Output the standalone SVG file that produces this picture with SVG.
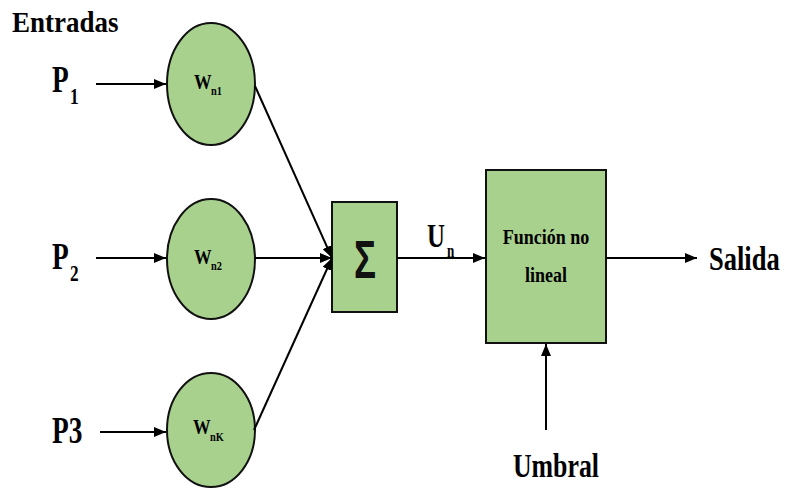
<svg xmlns="http://www.w3.org/2000/svg" width="786" height="488" viewBox="0 0 786 488">
  <style>
    .node { fill: #a9d18e; stroke: #111; stroke-width: 2; }
    .wire { stroke: #000; stroke-width: 2; fill: none; }
    .lbl { font-family: "Liberation Serif", "Times New Roman", serif; font-weight: bold; fill: #000; }
  </style>
  <defs>
    <marker id="arrow" viewBox="0 0 12 10" refX="12" refY="5" markerWidth="12" markerHeight="10" markerUnits="userSpaceOnUse" orient="auto">
      <path d="M0,0 L12,5 L0,10 Z" fill="#000"/>
    </marker>
  </defs>
  <rect width="786" height="488" fill="#fff"/>

  <!-- title and input labels -->
  <g id="labels">
    <text class="lbl" font-size="30" transform="translate(12,32) scale(0.9,1)">Entradas</text>
    <text class="lbl" font-size="38" transform="translate(52,92) scale(0.72,1)">P</text>
    <text class="lbl" font-size="24" transform="translate(70,104) scale(0.72,1)">1</text>
    <text class="lbl" font-size="38" transform="translate(52,269) scale(0.72,1)">P</text>
    <text class="lbl" font-size="24" transform="translate(70,281) scale(0.72,1)">2</text>
    <text class="lbl" font-size="38" transform="translate(52,443) scale(0.72,1)">P3</text>
    <text class="lbl" font-size="34" transform="translate(427,247) scale(0.73,1)">U</text>
    <text class="lbl" font-size="18" transform="translate(447,257) scale(0.73,1)">n</text>
    <text class="lbl" font-size="34" transform="translate(709,270) scale(0.78,1)">Salida</text>
    <text class="lbl" font-size="34" text-anchor="middle" transform="translate(556,477) scale(0.76,1)">Umbral</text>
  </g>

  <!-- weight nodes -->
  <g id="w1">
    <ellipse class="node" cx="211" cy="84" rx="44" ry="61"/>
    <text class="lbl" font-size="22" transform="translate(194,89) scale(0.8,1)">W</text>
    <text class="lbl" font-size="13" transform="translate(211,95) scale(0.8,1)">n1</text>
  </g>
  <g id="w2">
    <ellipse class="node" cx="211" cy="259" rx="44" ry="60"/>
    <text class="lbl" font-size="22" transform="translate(194,264) scale(0.8,1)">W</text>
    <text class="lbl" font-size="13" transform="translate(211,270) scale(0.8,1)">n2</text>
  </g>
  <g id="w3">
    <ellipse class="node" cx="211" cy="430" rx="44" ry="57"/>
    <text class="lbl" font-size="22" transform="translate(193,434) scale(0.8,1)">W</text>
    <text class="lbl" font-size="13" transform="translate(210,441) scale(0.8,1)">nK</text>
  </g>

  <!-- summation -->
  <g id="sum">
    <rect class="node" x="332" y="202" width="65" height="110"/>
    <text font-family="'Liberation Sans', Arial, sans-serif" font-weight="bold" font-size="54" fill="#111" text-anchor="middle" transform="translate(365,278) scale(0.68,1)">Σ</text>
  </g>

  <!-- activation -->
  <g id="activation">
    <rect class="node" x="486" y="170" width="120" height="173"/>
    <text class="lbl" font-size="20" text-anchor="middle" transform="translate(546,244) scale(0.9,1)">Función no</text>
    <text class="lbl" font-size="20" text-anchor="middle" transform="translate(546,282) scale(0.9,1)">lineal</text>
  </g>

  <!-- connectors -->
  <g id="connectors">
    <line class="wire" x1="96" y1="84" x2="166" y2="84" marker-end="url(#arrow)"/>
    <line class="wire" x1="96" y1="258" x2="166" y2="258" marker-end="url(#arrow)"/>
    <line class="wire" x1="100" y1="432" x2="166" y2="432" marker-end="url(#arrow)"/>
    <line class="wire" x1="255" y1="86" x2="332" y2="258" marker-end="url(#arrow)"/>
    <line class="wire" x1="255" y1="258" x2="332" y2="258" marker-end="url(#arrow)"/>
    <line class="wire" x1="254" y1="430" x2="332" y2="258" marker-end="url(#arrow)"/>
    <line class="wire" x1="397" y1="258" x2="485" y2="258" marker-end="url(#arrow)"/>
    <line class="wire" x1="606" y1="258" x2="697" y2="258" marker-end="url(#arrow)"/>
    <line class="wire" x1="546" y1="430" x2="546" y2="344" marker-end="url(#arrow)"/>
  </g>
</svg>
